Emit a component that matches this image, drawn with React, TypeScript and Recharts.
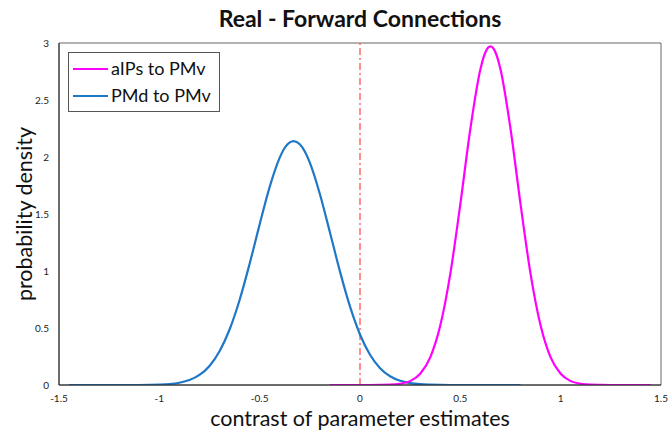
import {
  LineChart,
  Line,
  XAxis,
  YAxis,
  ReferenceLine,
  ReferenceArea,
} from "recharts";

const pmdX = [
  -1.45, -1.4, -1.35, -1.3, -1.25, -1.2, -1.15, -1.1, -1.05, -1.0, -0.95, -0.9,
  -0.85, -0.8, -0.75, -0.7, -0.65, -0.6, -0.55, -0.5, -0.45, -0.4, -0.375,
  -0.35, -0.33, -0.3, -0.275, -0.25, -0.2, -0.15, -0.1, -0.05, 0, 0.05, 0.1,
  0.15, 0.2, 0.25, 0.3, 0.35, 0.4, 0.45, 0.5, 0.55, 0.6, 0.65, 0.7, 0.75, 0.8,
];
const pmdY = [
  0, 0, 0, 0, 0, 0, 0, 0, 0.001, 0.003, 0.008, 0.02, 0.043, 0.088, 0.167,
  0.296, 0.487, 0.746, 1.064, 1.409, 1.738, 1.994, 2.081, 2.128, 2.14, 2.112,
  2.049, 1.951, 1.676, 1.34, 0.997, 0.689, 0.443, 0.265, 0.148, 0.077, 0.037,
  0.017, 0.007, 0.003, 0.001, 0, 0, 0, 0, 0, 0, 0, 0,
];

const aipsX = [
  -0.15, -0.1, -0.05, 0, 0.05, 0.1, 0.15, 0.2, 0.25, 0.3, 0.35, 0.4, 0.45, 0.5,
  0.55, 0.6, 0.625, 0.65, 0.675, 0.7, 0.75, 0.8, 0.85, 0.9, 0.95, 1.0, 1.05,
  1.1, 1.15, 1.2, 1.25, 1.3, 1.35, 1.4, 1.45,
];
const aipsY = [
  0, 0, 0, 0, 0, 0.001, 0.003, 0.011, 0.034, 0.098, 0.242, 0.521, 0.975, 1.587,
  2.248, 2.77, 2.919, 2.97, 2.919, 2.77, 2.248, 1.587, 0.975, 0.521, 0.242,
  0.098, 0.034, 0.011, 0.003, 0.001, 0, 0, 0, 0, 0,
];

const xTicks = [-1.5, -1, -0.5, 0, 0.5, 1, 1.5];
const yTicks = [0, 0.5, 1, 1.5, 2, 2.5, 3];

const series = [
  { name: "aIPs to PMv", color: "#ff00ff" },
  { name: "PMd to PMv", color: "#1f77c8" },
];

const font = "Lato, 'Open Sans', sans-serif";

const pmdData = pmdX.map((x, i) => ({ x, y: pmdY[i] }));
const aipsData = aipsX.map((x, i) => ({ x, y: aipsY[i] }));

function LegendBox() {
  return (
    <div
      style={{
        position: "absolute",
        top: 52,
        left: 68,
        border: "1px solid #555",
        background: "#fff",
        padding: "2px 8px 2px 4px",
        fontFamily: font,
        fontSize: 18,
        lineHeight: "27px",
        color: "#111",
      }}
    >
      {series.map((s) => (
        <div key={s.name} style={{ display: "flex", alignItems: "center" }}>
          <span
            style={{
              width: 35,
              height: 2,
              background: s.color,
              marginRight: 3,
              display: "inline-block",
            }}
          />
          <span>{s.name}</span>
        </div>
      ))}
    </div>
  );
}

export default function App() {
  return (
    <div
      style={{
        position: "absolute",
        left: 0,
        top: 0,
        width: 668,
        height: 431,
        background: "#fff",
      }}
    >
      <div
        style={{
          position: "absolute",
          top: 4,
          left: 0,
          width: 720,
          textAlign: "center",
          fontFamily: font,
          fontWeight: 700,
          fontSize: 23,
          color: "#111",
        }}
      >
        Real - Forward Connections
      </div>
      <LineChart
        width={668}
        height={431}
        margin={{ top: 43, right: 7, left: 0, bottom: 0 }}
      >
        <ReferenceArea
          x1={-1.5}
          x2={1.5}
          y1={0}
          y2={3}
          fill="none"
          stroke="#666"
          strokeWidth={1}
          ifOverflow="visible"
        />
        <XAxis
          type="number"
          dataKey="x"
          domain={[-1.5, 1.5]}
          ticks={xTicks}
          allowDataOverflow
          height={46}
          tickLine={false}
          axisLine={{ stroke: "#222" }}
          tick={{ fontSize: 10, fill: "#222", fontFamily: font }}
          tickMargin={4}
          label={{
            content: () => (
              <text
                x={360}
                y={426}
                textAnchor="middle"
                fontFamily={font}
                fontSize={21.5}
                fill="#111"
              >
                contrast of parameter estimates
              </text>
            ),
          }}
        />
        <YAxis
          type="number"
          domain={[0, 3]}
          ticks={yTicks}
          allowDataOverflow
          width={59}
          tickLine={false}
          axisLine={{ stroke: "#222" }}
          tick={{ fontSize: 10, fill: "#222", fontFamily: font }}
          tickMargin={4}
          label={{
            content: () => (
              <text
                x={32}
                y={214}
                textAnchor="middle"
                transform="rotate(-90 32 214)"
                fontFamily={font}
                fontSize={21.5}
                fill="#111"
              >
                probability density
              </text>
            ),
          }}
        />
        <ReferenceLine
          x={0}
          stroke="#ff6b6b"
          strokeWidth={1.5}
          strokeDasharray="7 3 2 3"
        />
        <Line
          data={pmdData}
          dataKey="y"
          name={series[1].name}
          type="monotone"
          stroke={series[1].color}
          strokeWidth={2.2}
          dot={false}
          isAnimationActive={false}
        />
        <Line
          data={aipsData}
          dataKey="y"
          name={series[0].name}
          type="monotone"
          stroke={series[0].color}
          strokeWidth={2.2}
          dot={false}
          isAnimationActive={false}
        />
      </LineChart>
      <LegendBox />
    </div>
  );
}
